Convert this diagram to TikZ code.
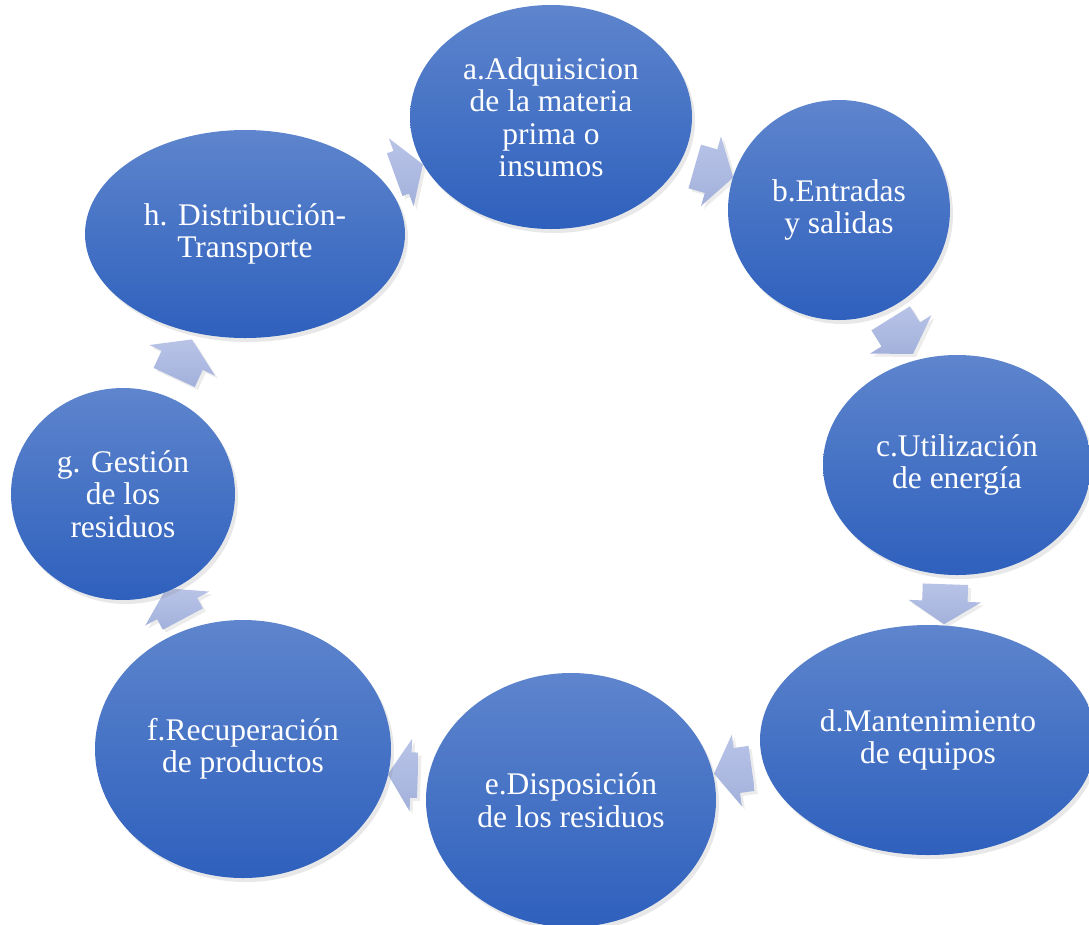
\documentclass[tikz,border=0pt]{standalone}
\usepackage{fontspec}
\setmainfont{Liberation Serif}
\usetikzlibrary{shapes.geometric,shapes.arrows,shadows}
\definecolor{bubbletop}{RGB}{94,133,205}
\definecolor{bubblemid}{RGB}{68,114,196}
\definecolor{bubblebot}{RGB}{46,96,189}
\definecolor{arrowtop}{RGB}{184,195,231}
\definecolor{arrowbot}{RGB}{163,177,219}
\tikzset{
  bubble/.style={ellipse, inner sep=0pt, align=center, text=white,
    font=\fontsize{31.5}{32.5}\selectfont,
    top color=bubbletop, middle color=bubblemid, bottom color=bubblebot,
    drop shadow={opacity=0.18, shadow xshift=3pt, shadow yshift=-4pt}},
  cyclearrow/.style={single arrow, inner xsep=0pt, inner ysep=22.5pt,
    minimum width=0pt, single arrow head extend=13.5pt,
    single arrow tip angle=115,
    top color=arrowtop, bottom color=arrowbot, shading angle=0,
    drop shadow={opacity=0.15, shadow xshift=3pt, shadow yshift=-3pt}}
}
\begin{document}
\begin{tikzpicture}[x=1pt,y=-1pt]
  \path[use as bounding box,clip] (0,0) rectangle (1089,924);
  % arrows of the cycle
  \node[cyclearrow, minimum height=30pt, rotate=20]  (ha) at (402,172) {};
  \node[cyclearrow, minimum height=40pt, rotate=-16] (ab) at (707,170) {};
  \node[cyclearrow, minimum height=42pt, rotate=-58] (bc) at (898,330) {};
  \node[cyclearrow, minimum height=40pt, rotate=-92] (cd) at (945,597) {};
  \node[cyclearrow, minimum height=38pt, rotate=188] (de) at (740,770) {};
  \node[cyclearrow, minimum height=30pt, rotate=178] (ef) at (410,775) {};
  \node[cyclearrow, minimum height=35pt, rotate=118] (fg) at (178,610) {};
  \node[cyclearrow, minimum height=42pt, rotate=65]  (gh) at (180,365) {};
  % stages
  \node[bubble, minimum width=282pt, minimum height=224pt] (a) at (551,117)
    {a.Adquisicion\\de la materia\\prima o\\insumos};
  \node[bubble, minimum width=222pt, minimum height=220pt] (b) at (839,210)
    {b.Entradas\\y salidas};
  \node[bubble, minimum width=268pt, minimum height=220pt] (c) at (957,465)
    {c.Utilización\\de energía};
  \node[bubble, minimum width=336pt, minimum height=230pt] (d) at (928,740)
    {d.Mantenimiento\\de equipos};
  \node[bubble, minimum width=290pt, minimum height=254pt] (e) at (571,800)
    {e.Disposición\\de los residuos};
  \node[bubble, minimum width=296pt, minimum height=258pt] (f) at (243,749)
    {f.Recuperación\\de productos};
  \node[bubble, minimum width=224pt, minimum height=212pt] (g) at (123,494)
    {g. Gestión\\de los\\residuos};
  \node[bubble, minimum width=320pt, minimum height=208pt] (h) at (245,234)
    {h. Distribución-\\Transporte};
\end{tikzpicture}
\end{document}
